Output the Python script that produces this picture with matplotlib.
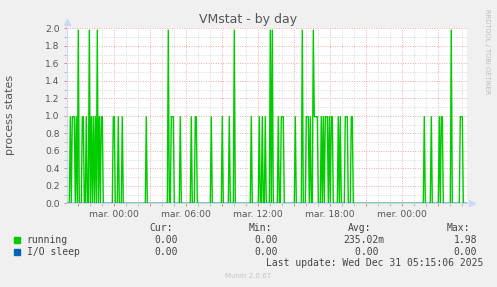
import numpy as np
import matplotlib
matplotlib.use("Agg")
import matplotlib.pyplot as plt
from matplotlib.ticker import MultipleLocator, FixedLocator

# "running" bursts: minutes relative to mar. 00:00 (5 min samples)
run_start = [-220, -210, -200, -190, -180, -160, -140, -125, -115, -105, -95, -85,
             -75, -65, -5, 20, 40, 160, 270, 285, 330, 385, 405, 485, 540, 575,
             600, 685, 725, 740, 755, 780, 790, 820, 835, 905, 940, 960, 980, 995,
             1000, 1035, 1045, 1055, 1065, 1075, 1085, 1120, 1130, 1155, 1185,
             1550, 1585, 1625, 1635, 1685, 1730]
run_end = [-220, -205, -200, -190, -180, -155, -140, -125, -115, -105, -95, -85,
           -75, -60, 0, 20, 40, 160, 270, 295, 330, 385, 410, 485, 540, 575,
           600, 685, 725, 740, 755, 780, 790, 820, 845, 905, 940, 970, 980, 995,
           1015, 1035, 1045, 1060, 1065, 1075, 1090, 1120, 1130, 1165, 1190,
           1550, 1585, 1625, 1640, 1685, 1740]
run_value = [0.99, 0.99, 0.99, 0.99, 1.98, 0.99, 0.99, 1.98, 0.99, 0.99, 0.99, 1.98,
             0.99, 0.99, 0.99, 0.99, 0.99, 0.99, 1.98, 0.99, 0.99, 0.99, 0.99, 0.99, 0.99, 0.99,
             1.98, 0.99, 0.99, 0.99, 0.99, 1.98, 1.98, 0.99, 0.99, 0.99, 1.98, 0.99, 0.99, 1.98,
             0.99, 0.99, 0.99, 0.99, 0.99, 0.99, 0.99, 0.99, 0.99, 0.99, 0.99,
             0.99, 0.99, 0.99, 0.99, 1.98, 0.99]

x_label_pos = [0, 360, 720, 1080, 1440]
x_labels = ["mar. 00:00", "mar. 06:00", "mar. 12:00", "mar. 18:00", "mer. 00:00"]

series_names = ["running", "I/O sleep"]
series_colors = ["#00CC00", "#0066B3"]
cur_vals = ["0.00", "0.00"]
min_vals = ["0.00", "0.00"]
avg_vals = ["235.02m", "0.00"]
max_vals = ["1.98", "0.00"]

W, H = 497, 287

# 5 minute sample grid covering the graph window
t = np.arange(-240, 1765, 5)
running = np.zeros(len(t))
for s, e, v in zip(run_start, run_end, run_value):
    running[(t >= s) & (t <= e)] = v
io_sleep = np.zeros(len(t))

fig = plt.figure(figsize=(W / 100, H / 100), dpi=100, facecolor="#F0F0F0")
ax = fig.add_axes([66.7 / W, 1 - 203.3 / H, 400 / W, 175 / H])
ax.set_facecolor("white")

ax.plot(t, running, color=series_colors[0], lw=1.0, zorder=3)
ax.plot(t, io_sleep, color=series_colors[1], lw=1.0, zorder=3)

ax.set_xlim(-238, 1762)
ax.set_ylim(0, 2.0)

# grid like rrdtool: pink major, grey minor, dotted
major_x = list(range(-180, 1762, 180))
ax.xaxis.set_major_locator(FixedLocator(major_x))
ax.set_xticklabels([x_labels[x_label_pos.index(m)] if m in x_label_pos else "" for m in major_x])
ax.xaxis.set_minor_locator(MultipleLocator(60))
ax.yaxis.set_major_locator(MultipleLocator(0.2))
ax.yaxis.set_minor_locator(MultipleLocator(0.1))
ax.set_yticklabels([f"{v:.1f}" for v in ax.get_yticks()])

ax.grid(which="major", color="#F2A8A8", ls=(0, (1, 1.5)), lw=0.7)
ax.grid(which="minor", color="#D6D6D6", ls=(0, (1, 1.5)), lw=0.7)
ax.set_axisbelow(True)

ax.tick_params(which="both", length=2.5, width=0.7, labelsize=6.6, labelcolor="#555555", pad=2.5)
ax.tick_params(which="major", color="#E88080")
ax.tick_params(which="minor", color="#BBBBBB")

for side in ["top", "right"]:
    ax.spines[side].set_visible(False)
for side in ["left", "bottom"]:
    ax.spines[side].set_color("#CFD6F8")
    ax.spines[side].set_linewidth(0.8)

# axis arrows
ax.plot([0], [1.035], marker="^", color="#CFD6F8", ms=4.5, transform=ax.transAxes, clip_on=False)
ax.plot([1.012], [0], marker=">", color="#CFD6F8", ms=4.5, transform=ax.transAxes, clip_on=False)

def ftext(x, y, s, **kw):
    fig.text(x / W, 1 - y / H, s, va="center", **kw)

ftext(10, 115, "process states", ha="center", fontsize=8, color="#555555", rotation=90)
ftext(248.5, 19, "VMstat - by day", ha="center", fontsize=9, color="#555555")
ftext(487, 52, "RRDTOOL / TOBI OETIKER", ha="center", fontsize=4.8, color="#BBBBBB", rotation=270)

mono = dict(family="DejaVu Sans Mono", fontsize=7, color="#444444")
ftext(149.3, 227.7, "Cur:", **mono)
ftext(249, 227.7, "Min:", **mono)
ftext(348, 227.7, "Avg:", **mono)
ftext(447, 227.7, "Max:", **mono)

rows_y = [240, 252]
for i, name in enumerate(series_names):
    y = rows_y[i]
    fig.patches.append(plt.Rectangle(((14) / W, 1 - (y + 2.8) / H), 5.5 / W, 5.5 / H,
                                     transform=fig.transFigure, color=series_colors[i]))
    ftext(26.7, y, name, **mono)
    ftext(178.3, y, cur_vals[i], ha="right", **mono)
    ftext(278.3, y, min_vals[i], ha="right", **mono)
    avg = avg_vals[i] if avg_vals[i][-1].isalpha() else avg_vals[i] + " "
    ftext(384, y, avg, ha="right", **mono)
    ftext(477, y, max_vals[i], ha="right", **mono)

ftext(483, 263.5, "Last update: Wed Dec 31 05:15:06 2025", ha="right", **mono)
ftext(248.5, 276.5, "Munin 2.0.67", ha="center", fontsize=5, color="#C4C4C4")

fig.savefig("out.png", dpi=100, facecolor=fig.get_facecolor())
